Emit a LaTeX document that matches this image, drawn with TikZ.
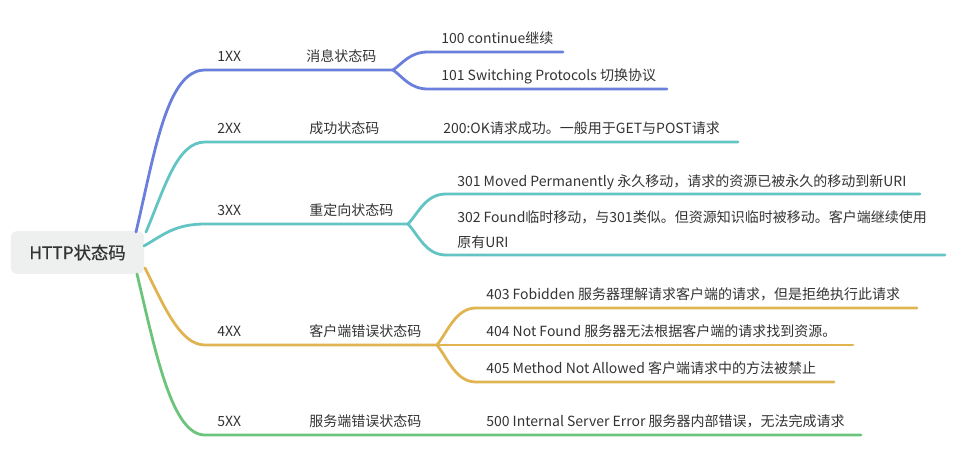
\documentclass[tikz,border=0pt]{standalone}
\usepackage{fontspec}
\setmainfont{Noto Sans CJK SC}
\newfontfamily\rootfont[FakeBold=0.6]{Noto Sans CJK SC}
\definecolor{cblue}{HTML}{6A7FDB}
\definecolor{cteal}{HTML}{62C4C3}
\definecolor{cyel}{HTML}{E1B452}
\definecolor{cgreen}{HTML}{6CC47C}
\definecolor{rootfill}{HTML}{EEF0EF}
\definecolor{txt}{HTML}{333333}
\begin{document}
\begin{tikzpicture}[x=0.75pt,y=-0.75pt,
  br/.style={line width=2.1pt,line cap=round},
  bblue/.style={br,draw=cblue},
  bteal/.style={br,draw=cteal},
  byel/.style={br,draw=cyel},
  bgreen/.style={br,draw=cgreen},
  lbl/.style={anchor=base west,inner sep=0pt,text=txt,font=\fontsize{10.5}{13}\selectfont},
  rootbox/.style={fill=rootfill,rounded corners=4pt,minimum width=100pt,minimum height=32pt,inner sep=0pt,text=txt,font=\rootfont\fontsize{13}{16}\selectfont}]
\useasboundingbox (0,0) rectangle (958,465);
\node[rootbox] (root) at (77.5,252.5) {HTTP状态码};
% branch start points on root
\coordinate (s1) at (136,232);
\coordinate (s2) at (146,232);
\coordinate (s3) at (144,246);
\coordinate (s4) at (145,268);
\coordinate (s5) at (137,274);
% horizontal starts / forks / ends
\coordinate (h1) at (205,70);  \coordinate (f1) at (393,70);
\coordinate (h2) at (205,142); \coordinate (e2) at (738,142);
\coordinate (h3) at (205,224); \coordinate (f3) at (408,224);
\coordinate (h4) at (205,345); \coordinate (f4) at (437,345);
\coordinate (h5) at (205,435); \coordinate (e5) at (861,435);
\coordinate (c100s) at (428,52);  \coordinate (c100e) at (563,52);
\coordinate (c101s) at (428,89);  \coordinate (c101e) at (667,89);
\coordinate (c301s) at (446,194); \coordinate (c301e) at (920,194);
\coordinate (c302s) at (446,255); \coordinate (c302e) at (945,255);
\coordinate (c403s) at (476,308); \coordinate (c403e) at (917,308);
\coordinate (c404e) at (853,345);
\coordinate (c405s) at (476,382); \coordinate (c405e) at (834,382);
% main branches
\draw[bblue] (s1) .. controls (155,151) and (167,70) .. (h1) -- (f1);
\draw[bteal] (s2) .. controls (165,187) and (177,142) .. (h2) -- (e2);
\draw[bteal] (s3) .. controls (163,235) and (175,224) .. (h3) -- (f3);
\draw[byel] (s4) .. controls (164,306) and (180,345) .. (h4) -- (f4);
\draw[bgreen] (s5) .. controls (156,354) and (172,435) .. (h5) -- (e5);
% sub branches
\draw[bblue] (f1) .. controls (403,63) and (410,52) .. (c100s) -- (c100e);
\draw[bblue] (f1) .. controls (403,77) and (410,89) .. (c101s) -- (c101e);
\draw[bteal] (f3) .. controls (419,212) and (426,194) .. (c301s) -- (c301e);
\draw[bteal] (f3) .. controls (419,236) and (426,255) .. (c302s) -- (c302e);
\draw[byel] (f4) .. controls (448,331) and (456,308) .. (c403s) -- (c403e);
\draw[byel] (f4) -- (c404e);
\draw[byel] (f4) .. controls (448,359) and (456,382) .. (c405s) -- (c405e);
% labels
\node[lbl] (k1) at (217,61) {1XX};
\node[lbl] (n1) at (306,61) {消息状态码};
\node[lbl] (k2) at (217,133) {2XX};
\node[lbl] (n2) at (309,133) {成功状态码};
\node[lbl] (k3) at (217,215) {3XX};
\node[lbl] (n3) at (309,215) {重定向状态码};
\node[lbl] (k4) at (217,336) {4XX};
\node[lbl] (n4) at (309,336) {客户端错误状态码};
\node[lbl] (k5) at (217,426) {5XX};
\node[lbl] (n5) at (309,426) {服务端错误状态码};
\node[lbl] (t100) at (441,43) {100 continue继续};
\node[lbl] (t101) at (441,80) {101 Switching Protocols 切换协议};
\node[lbl] (t200) at (443,133) {200:OK请求成功。一般用于GET与POST请求};
\node[lbl] (t301) at (457,186) {301 Moved Permanently 永久移动，请求的资源已被永久的移动到新URI};
\node[lbl] (t302a) at (457,222) {302 Found临时移动，与301类似。但资源知识临时被移动。客户端继续使用};
\node[lbl] (t302b) at (457,247) {原有URI};
\node[lbl] (t403) at (486,299) {403 Fobidden 服务器理解请求客户端的请求，但是拒绝执行此请求};
\node[lbl] (t404) at (486,336) {404 Not Found 服务器无法根据客户端的请求找到资源。};
\node[lbl] (t405) at (486,373) {405 Method Not Allowed 客户端请求中的方法被禁止};
\node[lbl] (t500) at (486,426) {500 Internal Server Error 服务器内部错误，无法完成请求};
\end{tikzpicture}
\end{document}
